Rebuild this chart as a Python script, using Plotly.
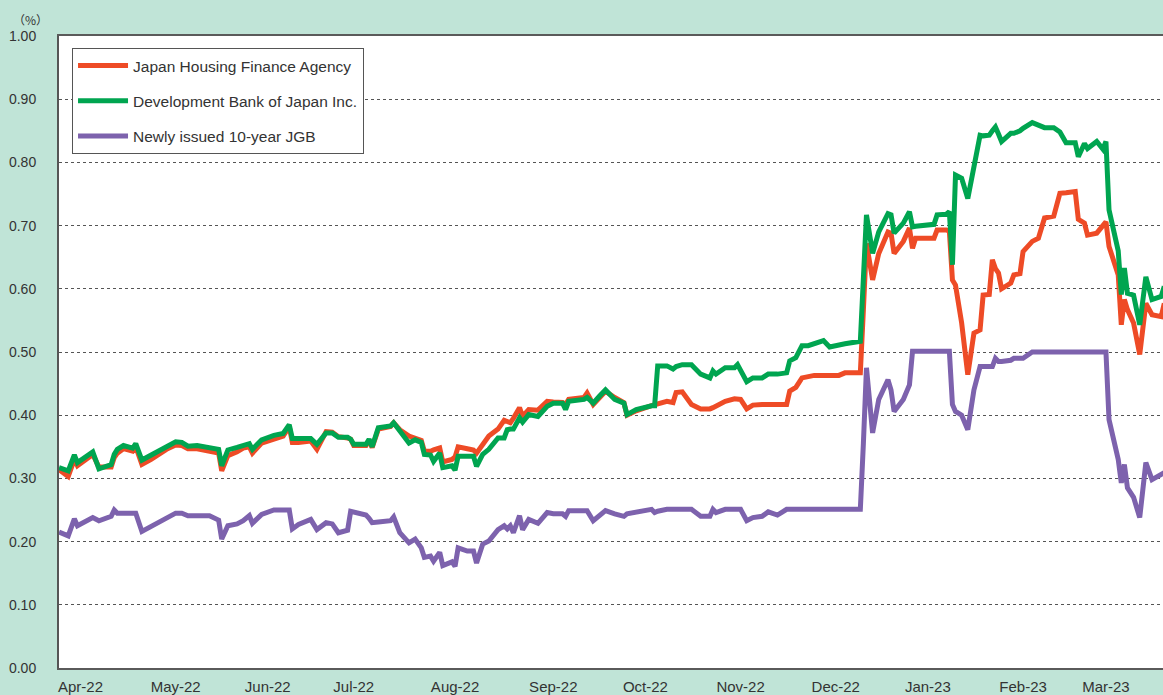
import plotly.graph_objects as go

# ---------------- data ----------------
dates = [
    "2022-04-01", "2022-04-04", "2022-04-06", "2022-04-07", "2022-04-12", "2022-04-14",
    "2022-04-18", "2022-04-19", "2022-04-20", "2022-04-22", "2022-04-25", "2022-04-26",
    "2022-04-28", "2022-05-01", "2022-05-06", "2022-05-09", "2022-05-11", "2022-05-13",
    "2022-05-16", "2022-05-20", "2022-05-23", "2022-05-24", "2022-05-26", "2022-05-29",
    "2022-05-31", "2022-06-02", "2022-06-03", "2022-06-06", "2022-06-10", "2022-06-13",
    "2022-06-15", "2022-06-16", "2022-06-18", "2022-06-22", "2022-06-24", "2022-06-27",
    "2022-06-29", "2022-07-01", "2022-07-04", "2022-07-05", "2022-07-06", "2022-07-10",
    "2022-07-11", "2022-07-12", "2022-07-14", "2022-07-18", "2022-07-19", "2022-07-21",
    "2022-07-24", "2022-07-26", "2022-07-28", "2022-07-29", "2022-07-31", "2022-08-01",
    "2022-08-03", "2022-08-04", "2022-08-07", "2022-08-08", "2022-08-09", "2022-08-12",
    "2022-08-14", "2022-08-15", "2022-08-17", "2022-08-19", "2022-08-22", "2022-08-24",
    "2022-08-25", "2022-08-26", "2022-08-27", "2022-08-29", "2022-08-30", "2022-09-01",
    "2022-09-04", "2022-09-07", "2022-09-09", "2022-09-12", "2022-09-13", "2022-09-14",
    "2022-09-19", "2022-09-20", "2022-09-22", "2022-09-24", "2022-09-26", "2022-09-29",
    "2022-10-02", "2022-10-03", "2022-10-06", "2022-10-11", "2022-10-12", "2022-10-13",
    "2022-10-16", "2022-10-18", "2022-10-19", "2022-10-21", "2022-10-24", "2022-10-27",
    "2022-10-30", "2022-10-31", "2022-11-01", "2022-11-04", "2022-11-07", "2022-11-08",
    "2022-11-09", "2022-11-11", "2022-11-13", "2022-11-16", "2022-11-18", "2022-11-21",
    "2022-11-24", "2022-11-25", "2022-11-27", "2022-11-29", "2022-12-01", "2022-12-03",
    "2022-12-06", "2022-12-08", "2022-12-11", "2022-12-13", "2022-12-18", "2022-12-19",
    "2022-12-20", "2022-12-22", "2022-12-24", "2022-12-27", "2022-12-28", "2022-12-29",
    "2023-01-01", "2023-01-03", "2023-01-04", "2023-01-05", "2023-01-11", "2023-01-12",
    "2023-01-15", "2023-01-16", "2023-01-17", "2023-01-18", "2023-01-20", "2023-01-22",
    "2023-01-24", "2023-01-26", "2023-01-27", "2023-01-29", "2023-01-30", "2023-01-31",
    "2023-02-01", "2023-02-02", "2023-02-05", "2023-02-06", "2023-02-08", "2023-02-09",
    "2023-02-12", "2023-02-14", "2023-02-16", "2023-02-19", "2023-02-21", "2023-02-23",
    "2023-02-26", "2023-02-27", "2023-03-01", "2023-03-02", "2023-03-05", "2023-03-07",
    "2023-03-08", "2023-03-09", "2023-03-12", "2023-03-13", "2023-03-14", "2023-03-15",
    "2023-03-17", "2023-03-19", "2023-03-21", "2023-03-23", "2023-03-26", "2023-03-27",
]

jhf = [  # Japan Housing Finance Agency
    0.314, 0.303, 0.330, 0.320, 0.338, 0.318,
    0.318, 0.333, 0.340, 0.347, 0.343, 0.350,
    0.322, 0.330, 0.346, 0.353, 0.352, 0.347,
    0.347, 0.343, 0.340, 0.312, 0.336, 0.342,
    0.348, 0.350, 0.340, 0.356, 0.363, 0.367,
    0.382, 0.357, 0.357, 0.359, 0.346, 0.374,
    0.373, 0.366, 0.364, 0.362, 0.352, 0.352,
    0.360, 0.349, 0.378, 0.382, 0.388, 0.377,
    0.367, 0.364, 0.360, 0.343, 0.343, 0.345,
    0.348, 0.326, 0.330, 0.334, 0.350, 0.347,
    0.345, 0.340, 0.353, 0.367, 0.378, 0.392,
    0.390, 0.388, 0.395, 0.412, 0.398, 0.409,
    0.408, 0.422, 0.421, 0.420, 0.417, 0.425,
    0.428, 0.435, 0.417, 0.428, 0.438, 0.428,
    0.420, 0.400, 0.407, 0.415, 0.416, 0.418,
    0.422, 0.420, 0.436, 0.437, 0.417, 0.410,
    0.410, 0.412, 0.415, 0.422, 0.426, 0.426,
    0.425, 0.410, 0.416, 0.417, 0.417, 0.416,
    0.417, 0.438, 0.444, 0.459, 0.462, 0.463,
    0.463, 0.463, 0.463, 0.467, 0.467, 0.567,
    0.672, 0.614, 0.656, 0.690, 0.688, 0.656,
    0.675, 0.696, 0.664, 0.680, 0.680, 0.693,
    0.693, 0.691, 0.614, 0.606, 0.546, 0.464,
    0.530, 0.535, 0.590, 0.591, 0.646, 0.632,
    0.625, 0.600, 0.609, 0.622, 0.624, 0.659,
    0.675, 0.680, 0.712, 0.715, 0.751, 0.752,
    0.754, 0.710, 0.704, 0.685, 0.688, 0.700,
    0.706, 0.667, 0.622, 0.543, 0.583, 0.567,
    0.546, 0.496, 0.577, 0.559, 0.556, 0.577,
]

dbj = [  # Development Bank of Japan Inc.
    0.317, 0.312, 0.337, 0.325, 0.342, 0.315,
    0.322, 0.338, 0.346, 0.352, 0.348, 0.355,
    0.329, 0.337, 0.351, 0.358, 0.357, 0.351,
    0.352, 0.348, 0.346, 0.320, 0.345, 0.349,
    0.353, 0.355, 0.346, 0.361, 0.368, 0.371,
    0.385, 0.363, 0.363, 0.363, 0.354, 0.372,
    0.372, 0.365, 0.365, 0.362, 0.354, 0.354,
    0.362, 0.350, 0.380, 0.383, 0.388, 0.375,
    0.356, 0.361, 0.357, 0.338, 0.337, 0.327,
    0.340, 0.317, 0.320, 0.313, 0.335, 0.335,
    0.335, 0.319, 0.338, 0.346, 0.364, 0.364,
    0.377, 0.378, 0.378, 0.396, 0.389, 0.401,
    0.398, 0.414, 0.419, 0.419, 0.409, 0.422,
    0.425, 0.428, 0.419, 0.430, 0.440, 0.425,
    0.419, 0.401, 0.409, 0.415, 0.415, 0.478,
    0.478, 0.473, 0.477, 0.480, 0.480, 0.465,
    0.459, 0.470, 0.465, 0.475, 0.475, 0.480,
    0.472, 0.453, 0.459, 0.459, 0.465, 0.465,
    0.467, 0.486, 0.491, 0.510, 0.510, 0.514,
    0.518, 0.508, 0.510, 0.513, 0.517, 0.630,
    0.717, 0.656, 0.690, 0.719, 0.717, 0.688,
    0.704, 0.722, 0.698, 0.699, 0.702, 0.717,
    0.718, 0.722, 0.638, 0.780, 0.775, 0.743,
    0.797, 0.843, 0.842, 0.843, 0.850, 0.856,
    0.845, 0.833, 0.846, 0.846, 0.850, 0.854,
    0.863, 0.860, 0.855, 0.855, 0.848, 0.831,
    0.831, 0.809, 0.830, 0.822, 0.833, 0.821,
    0.833, 0.725, 0.660, 0.591, 0.633, 0.593,
    0.590, 0.543, 0.619, 0.583, 0.588, 0.604,
]

jgb = [  # Newly issued 10-year JGB
    0.215, 0.209, 0.236, 0.225, 0.238, 0.233,
    0.240, 0.250, 0.245, 0.245, 0.245, 0.245,
    0.216, 0.224, 0.238, 0.245, 0.245, 0.241,
    0.241, 0.241, 0.234, 0.204, 0.225, 0.228,
    0.233, 0.241, 0.229, 0.243, 0.250, 0.250,
    0.250, 0.220, 0.227, 0.235, 0.219, 0.230,
    0.228, 0.214, 0.218, 0.248, 0.247, 0.242,
    0.237, 0.230, 0.231, 0.233, 0.239, 0.214,
    0.198, 0.204, 0.190, 0.175, 0.177, 0.169,
    0.183, 0.162, 0.168, 0.161, 0.190, 0.185,
    0.185, 0.166, 0.196, 0.201, 0.219, 0.225,
    0.220, 0.225, 0.214, 0.241, 0.219, 0.235,
    0.229, 0.246, 0.244, 0.244, 0.240, 0.249,
    0.249, 0.249, 0.233, 0.240, 0.249, 0.244,
    0.240, 0.244, 0.246, 0.251, 0.246, 0.248,
    0.251, 0.251, 0.251, 0.251, 0.251, 0.240,
    0.240, 0.251, 0.246, 0.251, 0.251, 0.251,
    0.251, 0.233, 0.238, 0.240, 0.247, 0.242,
    0.251, 0.251, 0.251, 0.251, 0.251, 0.251,
    0.251, 0.251, 0.251, 0.251, 0.251, 0.356,
    0.475, 0.372, 0.425, 0.456, 0.440, 0.406,
    0.425, 0.448, 0.501, 0.501, 0.501, 0.501,
    0.501, 0.501, 0.417, 0.406, 0.400, 0.377,
    0.440, 0.477, 0.477, 0.477, 0.477, 0.490,
    0.485, 0.485, 0.487, 0.490, 0.490, 0.490,
    0.500, 0.500, 0.500, 0.500, 0.500, 0.500,
    0.500, 0.500, 0.500, 0.500, 0.500, 0.500,
    0.500, 0.393, 0.330, 0.293, 0.322, 0.285,
    0.270, 0.238, 0.325, 0.298, 0.305, 0.309,
]

series_names = [
    "Japan Housing Finance Agency",
    "Development Bank of Japan Inc.",
    "Newly issued 10-year JGB",
]
series_values = [jhf, dbj, jgb]
series_colors = ["#EE4B26", "#00A550", "#7D62AD"]

tick_dates = [
    "2022-04-08", "2022-05-09", "2022-06-08", "2022-07-06", "2022-08-08", "2022-09-09",
    "2022-10-09", "2022-11-09", "2022-12-10", "2023-01-09", "2023-02-09", "2023-03-08",
]
tick_labels = [
    "Apr-22", "May-22", "Jun-22", "Jul-22", "Aug-22", "Sep-22",
    "Oct-22", "Nov-22", "Dec-22", "Jan-23", "Feb-23", "Mar-23",
]

# ---------------- figure ----------------
FONT = "Liberation Sans, Arial, sans-serif"
fig = go.Figure()
for name, vals, col in zip(series_names, series_values, series_colors):
    fig.add_trace(go.Scatter(
        x=dates, y=vals, mode="lines", name=name, legendgroup=name,
        line=dict(color=col, width=5),
    ))

fig.update_layout(
    width=1163, height=695,
    margin=dict(l=59, r=0, t=36, b=27),
    paper_bgcolor="#C0E4D7",
    plot_bgcolor="white",
    font=dict(family=FONT, color="#333333"),
    showlegend=True,
    legend=dict(
        x=0.0118, y=0.981, xanchor="left", yanchor="top",
        bgcolor="white", bordercolor="#555555", borderwidth=1,
        font=dict(size=15.5, color="#333333", family=FONT),
        tracegroupgap=12, itemwidth=50,
    ),
    xaxis=dict(
        type="date",
        range=["2022-04-01", "2023-03-26 14:00"],
        tickmode="array", tickvals=tick_dates, ticktext=tick_labels,
        showgrid=False, zeroline=False,
        showline=True, linecolor="#5A5A5A", linewidth=2, mirror=True,
        ticks="", tickfont=dict(size=15, color="#333333"),
        ticklabelstandoff=4,
    ),
    yaxis=dict(
        range=[0, 1], dtick=0.1, tick0=0, tickformat=".2f",
        showgrid=True, gridcolor="#555555", griddash="dot", gridwidth=1,
        zeroline=False,
        showline=True, linecolor="#555555", linewidth=2,
        ticks="", tickfont=dict(size=14, color="#333333"),
        ticklabelstandoff=18,
    ),
    annotations=[dict(
        text="（%）", xref="paper", yref="paper", x=0, y=1,
        xshift=-29, yshift=17, xanchor="center", yanchor="middle",
        showarrow=False, font=dict(size=12, color="#333333",
                                   family="Noto Sans CJK JP, Liberation Sans"),
    )],
)

fig.write_html(
    "out.html",
    config={"displayModeBar": False},
    post_script="document.body.style.margin='0';document.body.style.overflow='hidden';",
)
